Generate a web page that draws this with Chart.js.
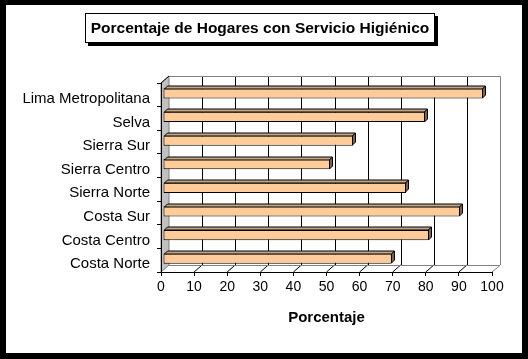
<!DOCTYPE html>
<html>
<head>
<meta charset="utf-8">
<script src="https://cdn.jsdelivr.net/npm/chart.js@4"></script>
<style>
  html, body { margin: 0; padding: 0; background: #000; }
  #frame { position: absolute; left: 6px; top: 5px; width: 516px; height: 348px; background: #fff; }
</style>
</head>
<body>
<div id="frame"><canvas id="hogaresChart" width="516" height="348"></canvas></div>
<script>
// ── Data ─────────────────────────────────────────────
const chartTitle = "Porcentaje de Hogares con Servicio Higiénico";
const axisTitle  = "Porcentaje";
const regions = ["Lima Metropolitana", "Selva", "Sierra Sur", "Sierra Centro",
                 "Sierra Norte", "Costa Sur", "Costa Centro", "Costa Norte"];
const porcentajes = [96.8, 79.2, 57.5, 50.5, 73.5, 89.7, 80.3, 69.1];
const xTicks = [0, 10, 20, 30, 40, 50, 60, 70, 80, 90, 100];

// ── 3D look ──────────────────────────────────────────
const DEPTH_X = 8, DEPTH_Y = -7;   // wall depth
const BAR_D   = 3;                  // bar depth
const FONT    = "'Liberation Sans', Arial, sans-serif";

// walls, floor and back gridlines
const wallsPlugin = {
    id: "walls",
    beforeDraw(chart) {
        const ctx = chart.ctx;
        const a = chart.chartArea;
        const xs = chart.scales.x;
        ctx.save();
        ctx.lineWidth = 1;

        // back wall
        ctx.fillStyle = "#fff";
        ctx.fillRect(a.left + DEPTH_X, a.top + DEPTH_Y, a.width, a.height);
        ctx.strokeStyle = "#000";
        xTicks.slice(1, -1).forEach(v => {
            const px = Math.round(xs.getPixelForValue(v) + DEPTH_X) + 0.5;
            ctx.beginPath();
            ctx.moveTo(px, a.top + DEPTH_Y);
            ctx.lineTo(px, a.bottom + DEPTH_Y);
            ctx.stroke();
        });
        ctx.strokeStyle = "#808080";
        ctx.beginPath();
        ctx.moveTo(a.left + DEPTH_X, a.top + DEPTH_Y + 0.5);
        ctx.lineTo(a.right + DEPTH_X + 0.5, a.top + DEPTH_Y + 0.5);
        ctx.lineTo(a.right + DEPTH_X + 0.5, a.bottom + DEPTH_Y);
        ctx.stroke();

        // floor
        ctx.strokeStyle = "#000";
        xTicks.slice(1, -1).forEach(v => {
            const px = xs.getPixelForValue(v);
            ctx.beginPath();
            ctx.moveTo(px, a.bottom);
            ctx.lineTo(px + DEPTH_X, a.bottom + DEPTH_Y);
            ctx.stroke();
        });
        ctx.strokeStyle = "#808080";
        ctx.beginPath();
        ctx.moveTo(a.left + DEPTH_X, a.bottom + DEPTH_Y + 0.5);
        ctx.lineTo(a.right + DEPTH_X, a.bottom + DEPTH_Y + 0.5);
        ctx.lineTo(a.right, a.bottom);
        ctx.stroke();

        // left wall
        ctx.fillStyle = "#c0c0c0";
        ctx.beginPath();
        ctx.moveTo(a.left, a.top);
        ctx.lineTo(a.left + DEPTH_X, a.top + DEPTH_Y);
        ctx.lineTo(a.left + DEPTH_X, a.bottom + DEPTH_Y);
        ctx.lineTo(a.left, a.bottom);
        ctx.closePath();
        ctx.fill();
        ctx.strokeStyle = "#808080";
        ctx.stroke();
        ctx.strokeStyle = "#000";
        ctx.beginPath();
        ctx.moveTo(a.left, a.top);
        ctx.lineTo(a.left + DEPTH_X, a.top + DEPTH_Y);
        ctx.stroke();

        // title box with shadow
        const bx = 79, by = 8, bw = 350, bh = 30;
        ctx.fillStyle = "#000";
        ctx.fillRect(bx + 3, by + 3, bw, bh);
        ctx.fillStyle = "#fff";
        ctx.fillRect(bx, by, bw, bh);
        ctx.strokeStyle = "#000";
        ctx.strokeRect(bx + 0.5, by + 0.5, bw - 1, bh - 1);
        ctx.fillStyle = "#000";
        ctx.font = "bold 15.5px " + FONT;
        ctx.textAlign = "center";
        ctx.textBaseline = "middle";
        ctx.fillText(chartTitle, bx + bw / 2, by + bh / 2 + 1);
        ctx.restore();
    }
};

// shift bars a little into depth and add top / side faces
const bars3dPlugin = {
    id: "bars3d",
    beforeDatasetsDraw(chart) {
        chart.ctx.save();
        chart.ctx.translate(2, -1.5);
    },
    afterDatasetsDraw(chart) {
        const ctx = chart.ctx;
        ctx.lineWidth = 1;
        ctx.strokeStyle = "#000";
        chart.getDatasetMeta(0).data.forEach(bar => {
            const p = bar.getProps(["x", "y", "base", "height"], true);
            const top = Math.round(p.y - p.height / 2) + 0.5;
            const bot = Math.round(p.y + p.height / 2) - 0.5;
            const l = Math.round(p.base) + 0.5, r = Math.round(p.x) - 0.5;
            // top face
            ctx.fillStyle = "#c4a584";
            ctx.beginPath();
            ctx.moveTo(l, top);
            ctx.lineTo(l + BAR_D, top - BAR_D);
            ctx.lineTo(r + BAR_D, top - BAR_D);
            ctx.lineTo(r, top);
            ctx.closePath();
            ctx.fill(); ctx.stroke();
            // side face
            ctx.fillStyle = "#806347";
            ctx.beginPath();
            ctx.moveTo(r, top);
            ctx.lineTo(r + BAR_D, top - BAR_D);
            ctx.lineTo(r + BAR_D, bot - BAR_D);
            ctx.lineTo(r, bot);
            ctx.closePath();
            ctx.fill(); ctx.stroke();
        });
        ctx.restore();
    }
};

new Chart(document.getElementById("hogaresChart"), {
    type: "bar",
    data: {
        labels: regions,
        datasets: [{
            label: axisTitle,
            data: porcentajes,
            backgroundColor: "#ffcc99",
            borderColor: "#000",
            borderWidth: 1,
            borderSkipped: false,
            categoryPercentage: 1,
            barPercentage: 0.43,
            clip: false
        }]
    },
    options: {
        indexAxis: "y",
        responsive: false,
        animation: false,
        layout: { padding: { top: 78, right: 30, bottom: 26, left: 0 } },
        plugins: {
            legend: { display: false },
            title: { display: false },
            tooltip: { enabled: false }
        },
        scales: {
            x: {
                min: 0,
                max: 100,
                afterFit: s => { s.height = 55; },
                afterBuildTicks: s => { s.ticks = xTicks.map(v => ({ value: v })); },
                grid: { drawOnChartArea: false, color: "#000", tickLength: 4 },
                border: { color: "#000" },
                ticks: { color: "#000", padding: 3, maxRotation: 0,
                         font: { family: FONT, size: 14 } },
                title: {
                    display: true,
                    text: axisTitle,
                    color: "#000",
                    padding: 0,
                    font: { family: FONT, size: 15, weight: "bold" }
                }
            },
            y: {
                afterFit: s => { s.width = 155; },
                grid: { drawOnChartArea: false, color: "#000", tickLength: 4, offset: true },
                border: { color: "#000" },
                ticks: { color: "#000", padding: 7, labelOffset: 4,
                         font: { family: FONT, size: 15 } }
            }
        }
    },
    plugins: [wallsPlugin, bars3dPlugin]
});
</script>
</body>
</html>
